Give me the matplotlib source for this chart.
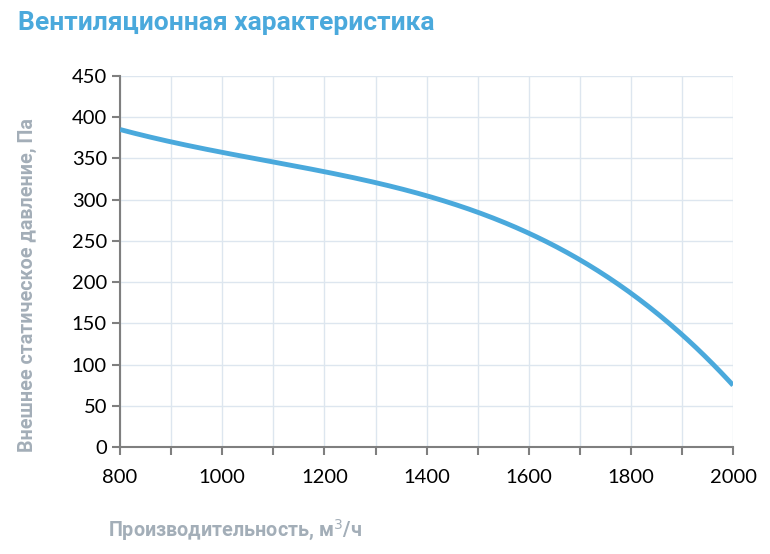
import numpy as np
import matplotlib.pyplot as plt

# air flow, m3/h and static pressure, Pa
flow = [800, 900, 1000, 1100, 1200, 1300, 1400, 1500, 1600, 1700, 1800, 1900, 2000]
pressure = [385, 370, 357, 346, 334, 320, 305, 285, 259, 227, 187, 136, 75]

x_ticks = np.arange(800, 2001, 200)
y_ticks = np.arange(0, 451, 50)

blue = '#4aa9dc'
grey = '#a3aeb8'

fig = plt.figure(figsize=(7.7, 5.54), dpi=100)
ax = fig.add_axes([0.156, 0.193, 0.796, 0.670])

# smooth the curve through the read points
xs = np.linspace(800, 2000, 300)
coef = np.polyfit(flow, pressure, 4)
ax.plot(xs, np.polyval(coef, xs), color=blue, lw=3.5, solid_capstyle='butt', zorder=3)

ax.set_xlim(800, 2000)
ax.set_ylim(0, 450)
ax.set_xticks(x_ticks)
ax.set_xticks(np.arange(800, 2001, 100), minor=True)
ax.set_yticks(y_ticks)
ax.grid(True, which='both', color='#dde6ef', lw=1)
ax.set_axisbelow(True)

for s in ['top', 'right']:
    ax.spines[s].set_visible(False)
for s in ['left', 'bottom']:
    ax.spines[s].set_color('#7f7f7f')
    ax.spines[s].set_linewidth(1.5)

ax.tick_params(axis='both', which='both', direction='out', color='#7f7f7f', width=1.5, length=6,
               labelsize=14.5)
ax.tick_params(axis='x', which='major', pad=10)
ax.tick_params(axis='x', which='minor', length=6)
for lab in ax.get_xticklabels() + ax.get_yticklabels():
    lab.set_fontfamily('Lato')

fig.text(0.023, 0.958, 'Вентиляционная характеристика', fontsize=19, fontweight='bold',
         color=blue, family='Roboto', va='center', ha='left')
fig.text(0.14, 0.043, 'Производительность, м$^3$/ч', fontsize=14.2, fontweight='bold',
         color=grey, family='Roboto', va='center', ha='left')
fig.text(0.036, 0.485, 'Внешнее статическое давление, Па', fontsize=14.2, fontweight='bold',
         color=grey, family='Roboto', va='center', ha='center', rotation=90)

fig.savefig('out.png', dpi=100)
